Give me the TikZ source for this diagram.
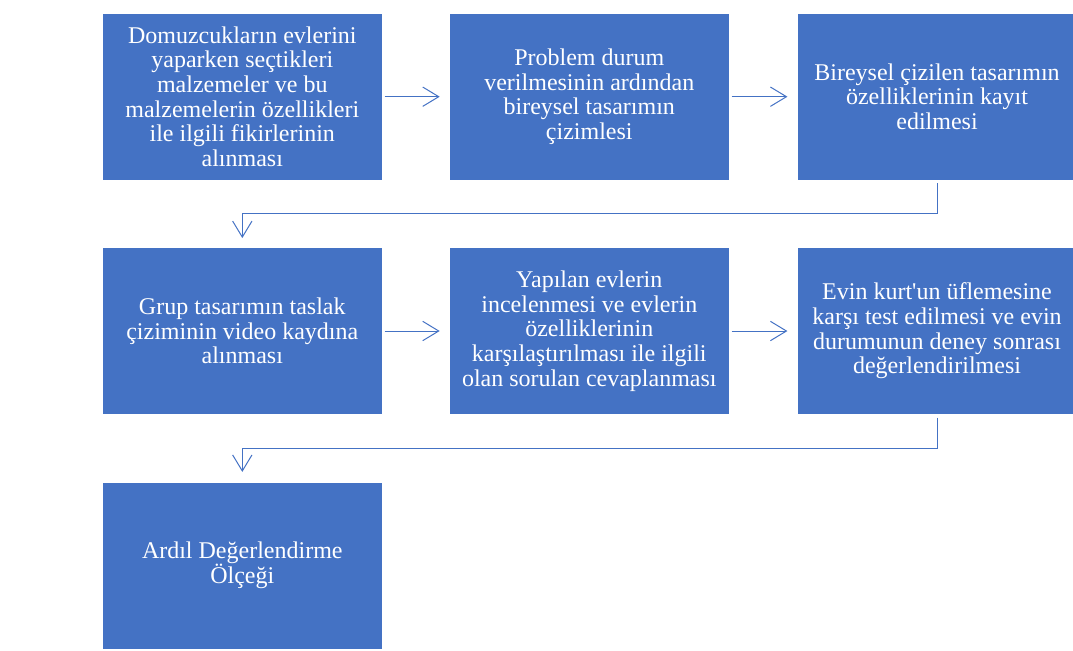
\documentclass[tikz,border=0pt]{standalone}
\usepackage{fontspec}
\setmainfont{Liberation Serif}
\usetikzlibrary{arrows.meta}
\definecolor{boxblue}{HTML}{4472C4}
\begin{document}
\begin{tikzpicture}[x=0.75pt,y=-0.75pt,
  box/.style={fill=boxblue, draw=white, line width=0.4pt, minimum width=210pt,
    minimum height=125pt, inner sep=0pt, text=white, align=center,
    font=\fontsize{18pt}{18.5pt}\selectfont},
  conn/.style={draw=boxblue, line width=0.75pt},
  arr/.style={conn, -{Straight Barb[length=12pt,width=14.5pt]}}]
\useasboundingbox (0,0) rectangle (1073,650);
\node[box] (b1) at (242.3,96.7) {Domuzcukların evlerini\\yaparken seçtikleri\\malzemeler ve bu\\malzemelerin özellikleri\\ile ilgili fikirlerinin\\alınması};
\node[box] (b2) at (589.3,96.7) {Problem durum\\verilmesinin ardından\\bireysel tasarımın\\çizimlesi};
\node[box] (b3) at (937,96.7) {Bireysel çizilen tasarımın\\özelliklerinin kayıt\\edilmesi};
\node[box] (b4) at (242.3,331) {Grup tasarımın taslak\\çiziminin video kaydına\\alınması};
\node[box] (b5) at (589.3,331) {Yapılan evlerin\\incelenmesi ve evlerin\\özelliklerinin\\karşılaştırılması ile ilgili\\olan sorulan cevaplanması};
\node[box] (b6) at (937,331) {Evin kurt\textquotesingle un üflemesine\\karşı test edilmesi ve evin\\durumunun deney sonrası\\değerlendirilmesi};
\node[box] (b7) at (242.3,565.5) {Ardıl Değerlendirme\\Ölçeği};
\draw[arr, shorten <=1.5pt, shorten >=7pt] (b1) -- (b2);
\draw[arr, shorten <=1.5pt, shorten >=7pt] (b2) -- (b3);
\draw[arr, shorten <=1.5pt, shorten >=7pt] (b4) -- (b5);
\draw[arr, shorten <=1.5pt, shorten >=7pt] (b5) -- (b6);
\draw[arr, shorten <=2.25pt, shorten >=7pt] (b3.south) -- ++(0,33.3) -| (b4.north);
\draw[arr, shorten <=2.25pt, shorten >=7.5pt] (b6.south) -- ++(0,34.3) -| (b7.north);
\end{tikzpicture}
\end{document}
